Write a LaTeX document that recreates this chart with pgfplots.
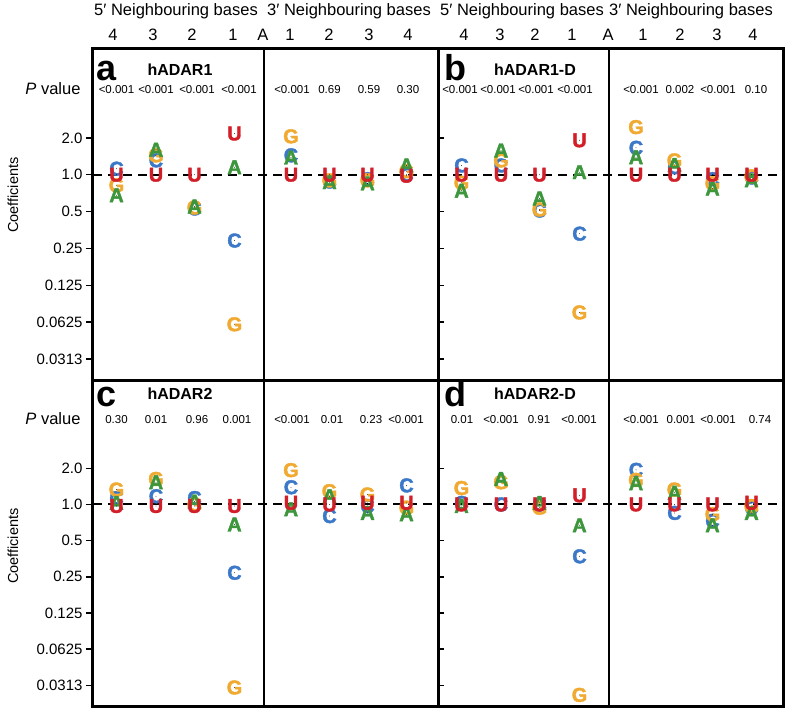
\documentclass[border=0pt]{standalone}
\usepackage{fontspec}
\setmainfont{Liberation Sans}
\newfontfamily\letterfam{Liberation Sans}[BoldFeatures={FakeBold=2}]
\usepackage{pgfplots}
\pgfplotsset{compat=1.18}

\definecolor{cA}{RGB}{60,150,60}
\definecolor{cC}{RGB}{60,120,200}
\definecolor{cG}{RGB}{240,170,50}
\definecolor{cU}{RGB}{210,30,40}

\newcommand\letterfont{\letterfam\fontsize{20}{20}\selectfont\bfseries}
\newcommand\pvfont{\fontsize{11.5}{12}\selectfont}
\newcommand\headfont{\fontsize{16.5}{18}\selectfont}

\pgfplotsset{
  myLetter/.style 2 args={only marks, mark=*, mark size=0.1pt,
    mark options={draw=none,fill=none},
    nodes near coords={\letterfont #1}, nodes near coords align={anchor=center},
    every node near coord/.append style={text=#2, inner sep=0pt, anchor=center}},
  myDash/.style={black, line width=2pt, dash pattern=on 9pt off 6pt},
  myDivider/.style={black, line width=1.5pt},
}

\begin{document}
\begin{tikzpicture}
\useasboundingbox (0pt,0pt) rectangle (788pt,-713pt);

% ---------------- panel a ----------------
\begin{axis}[scale only axis, width=345pt, height=332pt, ymode=log, log basis y=2,
    xmin=0, xmax=345, ymin=0.02103, ymax=10.85, clip=false,
    axis line style={line width=3pt},
    ytick={0.03125,0.0625,0.125,0.25,0.5,1,2}, ytick pos=left,
    tick style={line width=1.5pt,black},
    yticklabel style={font=\fontsize{15}{15}\selectfont},
    xtick=\empty,
    yticklabels={0.0313,0.0625,0.125,0.25,0.5,1.0,2.0},
    tick align=outside, major tick length=7pt,
    at={(93pt,-48pt)}, anchor=north west]
\addplot[myDivider] coordinates {(171,0.02103) (171,10.85)};
\addplot[myLetter={C}{cC}] coordinates {(23.5,1.12) (63,1.31) (101.5,0.53) (141.5,0.29) (198,1.44) (236.5,0.88) (274.5,0.92) (313.5,1.0)};
\addplot[myLetter={G}{cG}] coordinates {(23.5,0.82) (63,1.44) (101.5,0.54) (141.5,0.06) (198,2.06) (236.5,0.9) (274.5,0.9) (313.5,1.07)};
\addplot[myLetter={A}{cA}] coordinates {(23.5,0.68) (63,1.6) (101.5,0.55) (141.5,1.15) (198,1.38) (236.5,0.87) (274.5,0.85) (313.5,1.19)};
\addplot[myLetter={U}{cU}] coordinates {(23.5,1.0) (63,1.0) (101.5,1.0) (141.5,2.17) (198,1.0) (236.5,1.0) (274.5,1.0) (313.5,0.98)};
\addplot[myDash] coordinates {(0,1) (345,1)};
\node[font=\headfont,yshift=37pt] at (axis cs:83,10.85) {5′ Neighbouring bases};
\node[font=\headfont,yshift=37pt] at (axis cs:256,10.85) {3′ Neighbouring bases};
\node[font=\headfont,yshift=13pt] at (axis cs:20,10.85) {4};
\node[font=\headfont,yshift=13pt] at (axis cs:60,10.85) {3};
\node[font=\headfont,yshift=13pt] at (axis cs:99,10.85) {2};
\node[font=\headfont,yshift=13pt] at (axis cs:140,10.85) {1};
\node[font=\headfont,yshift=13pt] at (axis cs:170,10.85) {A};
\node[font=\headfont,yshift=13pt] at (axis cs:197,10.85) {1};
\node[font=\headfont,yshift=13pt] at (axis cs:236,10.85) {2};
\node[font=\headfont,yshift=13pt] at (axis cs:276,10.85) {3};
\node[font=\headfont,yshift=13pt] at (axis cs:315,10.85) {4};
\node[anchor=base west, inner sep=0pt, font=\fontsize{36}{36}\selectfont\bfseries] at (axis cs:3,5.9) {a};
\node[anchor=base, inner sep=0pt, font=\fontsize{16}{16}\selectfont\bfseries] at (axis cs:87,6.46) {hADAR1};
\node[anchor=east, font=\headfont, xshift=-9pt] at (axis cs:0,5.02) {\textit{P} value};
\node[rotate=90, font=\fontsize{14.5}{15}\selectfont] at ([xshift=-80pt]axis cs:0,0.68) {Coefficients};
\node[font=\pvfont] at (axis cs:23.5,4.97) {<0.001};
\node[font=\pvfont] at (axis cs:63,4.97) {<0.001};
\node[font=\pvfont] at (axis cs:104,4.97) {<0.001};
\node[font=\pvfont] at (axis cs:146,4.97) {<0.001};
\node[font=\pvfont] at (axis cs:199,4.97) {<0.001};
\node[font=\pvfont] at (axis cs:236.5,4.97) {0.69};
\node[font=\pvfont] at (axis cs:276,4.97) {0.59};
\node[font=\pvfont] at (axis cs:315,4.97) {0.30};
\end{axis}

% ---------------- panel b ----------------
\begin{axis}[scale only axis, width=345pt, height=332pt, ymode=log, log basis y=2,
    xmin=0, xmax=345, ymin=0.02103, ymax=10.85, clip=false,
    axis line style={line width=3pt},
    ytick={0.03125,0.0625,0.125,0.25,0.5,1,2}, ytick pos=left,
    tick style={line width=1.5pt,black},
    xtick=\empty,
    yticklabels={}, tick align=inside, major tick length=6pt,
    at={(438pt,-48pt)}, anchor=north west]
\addplot[myDivider] coordinates {(171,0.02103) (171,10.85)};
\addplot[myLetter={C}{cC}] coordinates {(23.5,1.19) (63,1.19) (101.5,0.51) (141.5,0.33) (198,1.66) (236.5,1.15) (274.5,0.92) (313.5,0.95)};
\addplot[myLetter={G}{cG}] coordinates {(23.5,0.86) (63,1.31) (101.5,0.52) (141.5,0.075) (198,2.45) (236.5,1.31) (274.5,0.85) (313.5,0.97)};
\addplot[myLetter={A}{cA}] coordinates {(23.5,0.74) (63,1.58) (101.5,0.64) (141.5,1.05) (198,1.39) (236.5,1.2) (274.5,0.77) (313.5,0.9)};
\addplot[myLetter={U}{cU}] coordinates {(23.5,1.0) (63,1.0) (101.5,1.0) (141.5,1.91) (198,1.0) (236.5,1.0) (274.5,1.0) (313.5,1.0)};
\addplot[myDash] coordinates {(0,1) (345,1)};
\node[font=\headfont,yshift=37pt] at (axis cs:84,10.85) {5′ Neighbouring bases};
\node[font=\headfont,yshift=37pt] at (axis cs:253,10.85) {3′ Neighbouring bases};
\node[font=\headfont,yshift=13pt] at (axis cs:26,10.85) {4};
\node[font=\headfont,yshift=13pt] at (axis cs:62,10.85) {3};
\node[font=\headfont,yshift=13pt] at (axis cs:97,10.85) {2};
\node[font=\headfont,yshift=13pt] at (axis cs:134,10.85) {1};
\node[font=\headfont,yshift=13pt] at (axis cs:170,10.85) {A};
\node[font=\headfont,yshift=13pt] at (axis cs:205,10.85) {1};
\node[font=\headfont,yshift=13pt] at (axis cs:242,10.85) {2};
\node[font=\headfont,yshift=13pt] at (axis cs:279,10.85) {3};
\node[font=\headfont,yshift=13pt] at (axis cs:315,10.85) {4};
\node[anchor=base west, inner sep=0pt, font=\fontsize{36}{36}\selectfont\bfseries] at (axis cs:6,5.9) {b};
\node[anchor=base, inner sep=0pt, font=\fontsize{16}{16}\selectfont\bfseries] at (axis cs:97,6.46) {hADAR1-D};
\node[font=\pvfont] at (axis cs:22,4.97) {<0.001};
\node[font=\pvfont] at (axis cs:60,4.97) {<0.001};
\node[font=\pvfont] at (axis cs:98,4.97) {<0.001};
\node[font=\pvfont] at (axis cs:137,4.97) {<0.001};
\node[font=\pvfont] at (axis cs:203,4.97) {<0.001};
\node[font=\pvfont] at (axis cs:242,4.97) {0.002};
\node[font=\pvfont] at (axis cs:280,4.97) {<0.001};
\node[font=\pvfont] at (axis cs:318,4.97) {0.10};
\end{axis}

% ---------------- panel c ----------------
\begin{axis}[scale only axis, width=345pt, height=326pt, ymode=log, log basis y=2,
    xmin=0, xmax=345, ymin=0.02103, ymax=10.85, clip=false,
    axis line style={line width=3pt},
    ytick={0.03125,0.0625,0.125,0.25,0.5,1,2}, ytick pos=left,
    tick style={line width=1.5pt,black},
    yticklabel style={font=\fontsize{15}{15}\selectfont},
    xtick=\empty,
    yticklabels={0.0313,0.0625,0.125,0.25,0.5,1.0,2.0},
    tick align=outside, major tick length=7pt,
    at={(93pt,-380pt)}, anchor=north west]
\addplot[myDivider] coordinates {(171,0.02103) (171,10.85)};
\addplot[myLetter={C}{cC}] coordinates {(23.5,1.13) (63,1.17) (101.5,1.13) (141.5,0.27) (198,1.39) (236.5,0.80) (274.5,0.97) (313.5,1.44)};
\addplot[myLetter={G}{cG}] coordinates {(23.5,1.33) (63,1.63) (101.5,1.0) (141.5,0.030) (198,1.93) (236.5,1.29) (274.5,1.21) (313.5,0.94)};
\addplot[myLetter={A}{cA}] coordinates {(23.5,1.03) (63,1.53) (101.5,1.06) (141.5,0.68) (198,0.91) (236.5,1.17) (274.5,0.85) (313.5,0.83)};
\addplot[myLetter={U}{cU}] coordinates {(23.5,0.97) (63,0.97) (101.5,0.97) (141.5,0.97) (198,1.03) (236.5,1.0) (274.5,1.03) (313.5,1.03)};
\addplot[myDash] coordinates {(0,1) (345,1)};
\node[anchor=base west, inner sep=0pt, font=\fontsize{36}{36}\selectfont\bfseries] at (axis cs:3,6.54) {c};
\node[anchor=base, inner sep=0pt, font=\fontsize{16}{16}\selectfont\bfseries] at (axis cs:87,7.46) {hADAR2};
\node[anchor=east, font=\headfont, xshift=-9pt] at (axis cs:0,5.2) {\textit{P} value};
\node[rotate=90, font=\fontsize{14.5}{15}\selectfont] at ([xshift=-80pt]axis cs:0,0.45) {Coefficients};
\node[font=\pvfont] at (axis cs:23.5,5.1) {0.30};
\node[font=\pvfont] at (axis cs:63,5.1) {0.01};
\node[font=\pvfont] at (axis cs:104,5.1) {0.96};
\node[font=\pvfont] at (axis cs:144,5.1) {0.001};
\node[font=\pvfont] at (axis cs:199,5.1) {<0.001};
\node[font=\pvfont] at (axis cs:239,5.1) {0.01};
\node[font=\pvfont] at (axis cs:278,5.1) {0.23};
\node[font=\pvfont] at (axis cs:313,5.1) {<0.001};
\end{axis}

% ---------------- panel d ----------------
\begin{axis}[scale only axis, width=345pt, height=326pt, ymode=log, log basis y=2,
    xmin=0, xmax=345, ymin=0.02103, ymax=10.85, clip=false,
    axis line style={line width=3pt},
    ytick={0.03125,0.0625,0.125,0.25,0.5,1,2}, ytick pos=left,
    tick style={line width=1.5pt,black},
    xtick=\empty,
    yticklabels={}, tick align=inside, major tick length=6pt,
    at={(438pt,-380pt)}, anchor=north west]
\addplot[myDivider] coordinates {(171,0.02103) (171,10.85)};
\addplot[myLetter={C}{cC}] coordinates {(23.5,1.03) (63,1.0) (101.5,1.0) (141.5,0.37) (198,1.94) (236.5,0.85) (274.5,0.73) (313.5,0.94)};
\addplot[myLetter={G}{cG}] coordinates {(23.5,1.37) (63,1.53) (101.5,0.94) (141.5,0.026) (198,1.6) (236.5,1.33) (274.5,0.83) (313.5,0.97)};
\addplot[myLetter={A}{cA}] coordinates {(23.5,0.97) (63,1.63) (101.5,1.03) (141.5,0.67) (198,1.5) (236.5,1.25) (274.5,0.67) (313.5,0.85)};
\addplot[myLetter={U}{cU}] coordinates {(23.5,1.0) (63,1.0) (101.5,1.0) (141.5,1.19) (198,1.0) (236.5,1.0) (274.5,1.0) (313.5,1.03)};
\addplot[myDash] coordinates {(0,1) (345,1)};
\node[anchor=base west, inner sep=0pt, font=\fontsize{36}{36}\selectfont\bfseries] at (axis cs:6,6.54) {d};
\node[anchor=base, inner sep=0pt, font=\fontsize{16}{16}\selectfont\bfseries] at (axis cs:97,7.46) {hADAR2-D};
\node[font=\pvfont] at (axis cs:24,5.1) {0.01};
\node[font=\pvfont] at (axis cs:63,5.1) {<0.001};
\node[font=\pvfont] at (axis cs:101,5.1) {0.91};
\node[font=\pvfont] at (axis cs:141,5.1) {<0.001};
\node[font=\pvfont] at (axis cs:203,5.1) {<0.001};
\node[font=\pvfont] at (axis cs:243,5.1) {0.001};
\node[font=\pvfont] at (axis cs:280,5.1) {<0.001};
\node[font=\pvfont] at (axis cs:322,5.1) {0.74};
\end{axis}
\end{tikzpicture}
\end{document}
